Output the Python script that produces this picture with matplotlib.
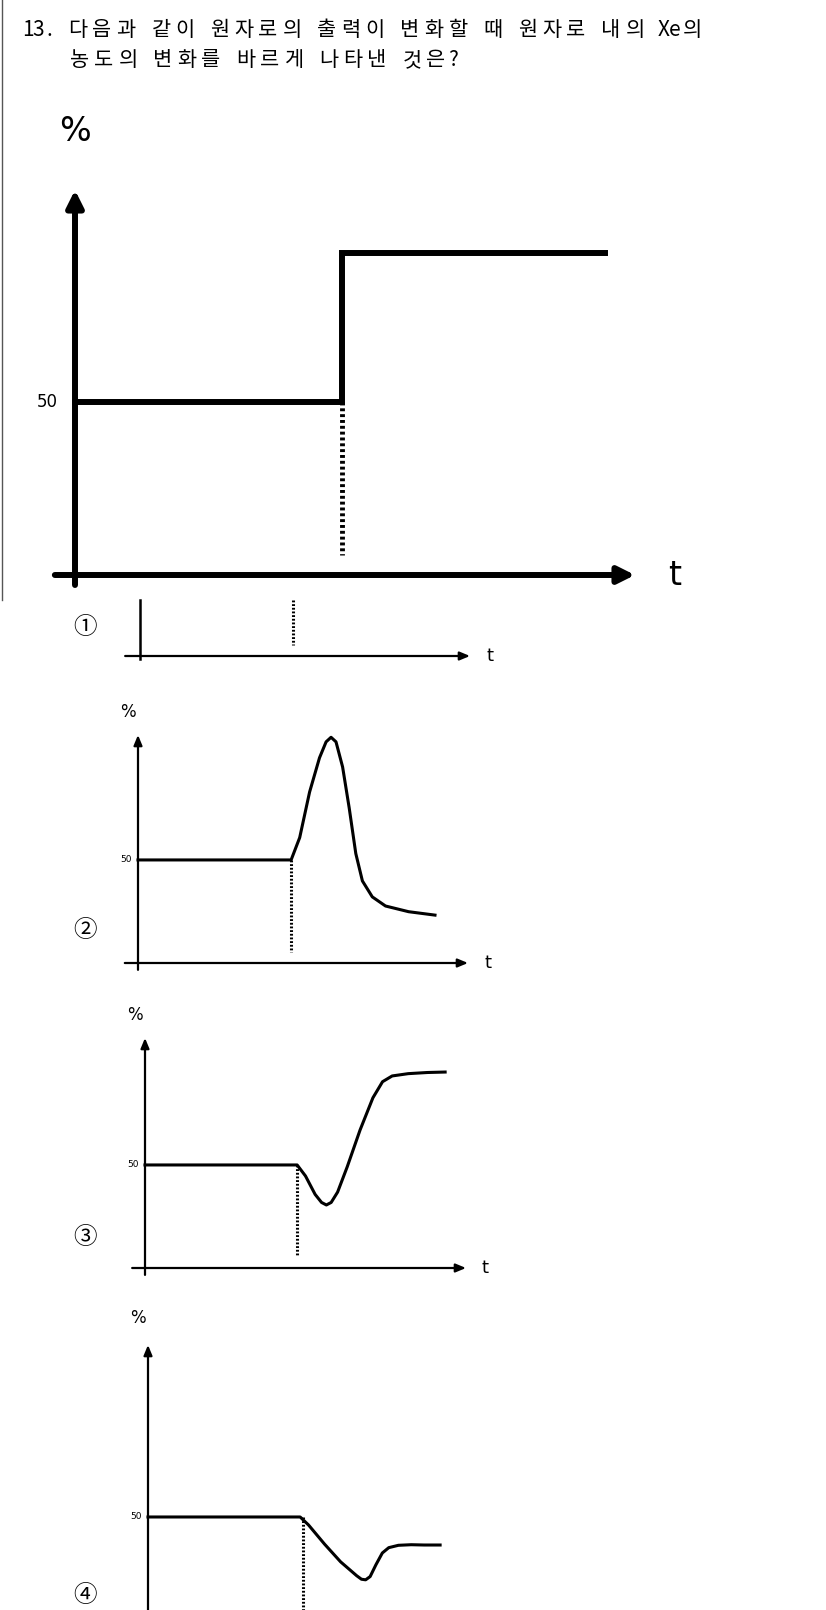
import matplotlib
matplotlib.use("Agg")
import matplotlib.pyplot as plt

W, H = 826, 1610
plt.rcParams['font.family'] = ['Noto Sans CJK KR', 'DejaVu Sans']

question = ["13. 다음과 같이 원자로의 출력이 변화할 때 원자로 내의 Xe의", "농도의 변화를 바르게 나타낸 것은?"]
choices = ["①", "②", "③", "④"]

# main chart (power, %)
main_t = [0, 47.7, 47.7, 94.6]
main_y = [45, 45, 83.6, 83.6]
main_step_t = 47.7
main_50 = 45

# choice curves
c2_t = [0, 46.4, 49, 52, 55, 57, 58.5, 60, 62, 64, 66, 68, 71, 75, 82, 90]
c2_y = [45.2, 45.2, 55, 75, 90, 97, 99, 97, 86, 68, 48, 36, 29, 25, 22.5, 21]
c3_t = [0, 47.4, 50, 53, 55, 56.5, 58, 60, 63, 67, 71, 74, 77, 82, 88, 93.5]
c3_y = [44.8, 44.8, 40, 32, 28.5, 27.4, 28.5, 33, 44, 60, 74, 81, 83.5, 84.5, 85, 85.2]
c4_t = [0, 47.4, 50, 55, 60, 65, 66.5, 67.8, 69.2, 71, 73, 75, 78, 82, 86, 91]
c4_y = [41.7, 41.7, 39, 32.5, 26.5, 21.8, 20.6, 20.4, 21.5, 25.5, 29.5, 31.3, 32.1, 32.3, 32.2, 32.2]

fig = plt.figure(figsize=(W/100, H/100), dpi=100)
fig.patch.set_facecolor('white')

def ax_px(x0, x1, ytop, ybot):
    ax = fig.add_axes([x0/W, 1-ybot/H, (x1-x0)/W, (ybot-ytop)/H])
    ax.set_xlim(0, 100); ax.set_ylim(0, 100)
    ax.axis('off')
    return ax

def axes_arrows(ax, lw, hw, hl, xstart, ystart, ytop=100, yaxis=True):
    ax.annotate('', xy=(100, 0), xytext=(xstart, 0), annotation_clip=False,
                arrowprops=dict(arrowstyle=f'-|>,head_width={hw},head_length={hl}', lw=lw, color='black', shrinkA=0, shrinkB=0))
    if yaxis:
        ax.annotate('', xy=(0, ytop), xytext=(0, ystart), annotation_clip=False,
                    arrowprops=dict(arrowstyle=f'-|>,head_width={hw},head_length={hl}', lw=lw, color='black', shrinkA=0, shrinkB=0))

def spaced_text(s, x, y, wide=24.0, narrow=11.0, size=15):
    for ch in s:
        is_wide = ord(ch) > 0x1100
        adv = wide if is_wide else narrow
        if ch != ' ':
            fig.text((x + adv/2)/W, 1-y/H, ch, fontsize=size, ha='center', va='center')
        x += adv

# question text
spaced_text(question[0], 22, 30)
spaced_text(question[1], 68, 60)
# left border line
fig.add_artist(plt.Line2D([2/W, 2/W], [1, 1-600/H], color='#555', lw=1))

# main panel
ax = ax_px(75, 635, 190, 575)
axes_arrows(ax, 4.3, 0.5, 1.0, -3.6, -2.6)
ax.plot(main_t, main_y, color='black', lw=4.3, solid_joinstyle='miter', clip_on=False)
ax.plot([main_step_t, main_step_t], [main_50, 5.2], color='black', lw=3.5, ls=(0, (0.6, 0.6)), clip_on=False)
ax.text(-3, main_50, '50', ha='right', va='center', fontsize=12, family='DejaVu Sans')
ax.text(0, 111, '%', ha='center', va='bottom', fontsize=24, family='DejaVu Sans')
ax.text(107, 0, 't', ha='center', va='center', fontsize=24, family='DejaVu Sans')

# choice 1
ax1 = ax_px(140, 470, 600, 656)
axes_arrows(ax1, 1.6, 0.25, 0.6, -4.5, -5, yaxis=False)
ax1.plot([0, 0], [-5, 100], color='black', lw=1.8, clip_on=False)
ax1.plot([46.4, 46.4], [100, 20], color='black', lw=2.2, ls=(0, (0.6, 0.6)), clip_on=False)
ax1.text(106, 0, 't', ha='center', va='center', fontsize=13, family='DejaVu Sans')
fig.text(85/W, 1-628/H, choices[0], fontsize=17, ha='center', va='center')

def choice(x0, x1, ytop, ybot, t, y, dash_t, y50, dash_bot, label, ly, show_t=True):
    a = ax_px(x0, x1, ytop, ybot)
    axes_arrows(a, 1.6, 0.25, 0.6, -4, -3)
    a.plot(t, y, color='black', lw=2.2, clip_on=False, solid_joinstyle='round')
    a.plot([dash_t, dash_t], [y50, dash_bot], color='black', lw=2.2, ls=(0, (0.6, 0.6)), clip_on=False)
    a.text(-2, y50, '50', ha='right', va='center', fontsize=6.5, family='DejaVu Sans')
    a.text(-3, 106, '%', ha='center', va='bottom', fontsize=12, family='DejaVu Sans')
    if show_t:
        a.text(106, 0, 't', ha='center', va='center', fontsize=13, family='DejaVu Sans')
    fig.text(85/W, 1-ly/H, label, fontsize=17, ha='center', va='center')

choice(138, 468, 735, 963, c2_t, c2_y, 46.4, 45.2, 4.8, choices[1], 930)
choice(145, 466, 1038, 1268, c3_t, c3_y, 47.4, 44.8, 5.6, choices[2], 1237)
choice(148, 469, 1345, 1640, c4_t, c4_y, 48.3, 41.7, -12, choices[3], 1595, show_t=False)

fig.savefig('out.png', dpi=100, facecolor='white')
